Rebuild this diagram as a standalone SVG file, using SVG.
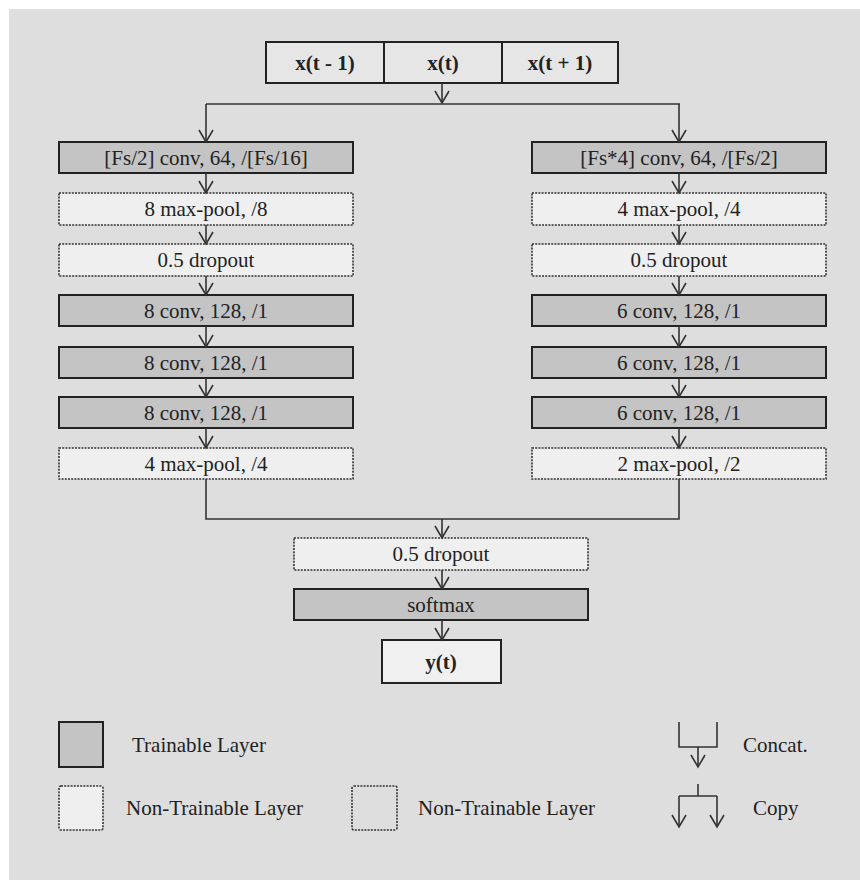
<svg xmlns="http://www.w3.org/2000/svg" width="860" height="880" viewBox="0 0 860 880" font-family="'Liberation Serif', 'DejaVu Serif', serif">
<defs>
<marker id="vd" viewBox="0 0 20 20" refX="10" refY="18" markerWidth="20" markerHeight="20" markerUnits="userSpaceOnUse" orient="0">
<path d="M3,6 L10,18 L17,6" fill="none" stroke="#333" stroke-width="1.6"/>
</marker>
</defs>
<style>
text{font-family:'Liberation Serif','DejaVu Serif',serif;fill:#222;font-size:21px;text-anchor:middle}
.b{font-weight:bold}
.tr{fill:#c4c4c4;stroke:#222;stroke-width:2}
.nt{fill:#efefef;stroke:#333;stroke-width:1.6;stroke-dasharray:2 1.2}
.nt2{fill:#dedede;stroke:#333;stroke-width:1.6;stroke-dasharray:2 1.2}
.io{fill:#e6e6e6;stroke:#222;stroke-width:2}
.ot{fill:#f0f0f0;stroke:#222;stroke-width:2}
.c{fill:none;stroke:#333;stroke-width:1.6}
.a{fill:none;stroke:#333;stroke-width:1.6;marker-end:url(#vd)}
.l{text-anchor:start}
</style>
<rect x="0" y="0" width="860" height="880" fill="#ffffff"/>
<rect x="9" y="9" width="851" height="871" fill="#dedede"/>

<g id="input">
<rect class="io" x="266" y="42" width="352" height="41"/>
<line x1="384" y1="42" x2="384" y2="83" stroke="#222" stroke-width="2"/>
<line x1="502" y1="42" x2="502" y2="83" stroke="#222" stroke-width="2"/>
<text class="b" x="325" y="70">x(t - 1)</text>
<text class="b" x="443" y="70">x(t)</text>
<text class="b" x="560" y="70">x(t + 1)</text>
</g>

<g id="L1"><rect class="tr" x="59" y="142" width="294" height="31"/><text x="206" y="165">[Fs/2] conv, 64, /[Fs/16]</text></g>
<g id="L2"><rect class="nt" x="59" y="193" width="294" height="32"/><text x="206" y="216">8 max-pool, /8</text></g>
<g id="L3"><rect class="nt" x="59" y="244" width="294" height="32"/><text x="206" y="267">0.5 dropout</text></g>
<g id="L4"><rect class="tr" x="59" y="295" width="294" height="31"/><text x="206" y="318">8 conv, 128, /1</text></g>
<g id="L5"><rect class="tr" x="59" y="347" width="294" height="31"/><text x="206" y="370">8 conv, 128, /1</text></g>
<g id="L6"><rect class="tr" x="59" y="397" width="294" height="31"/><text x="206" y="420">8 conv, 128, /1</text></g>
<g id="L7"><rect class="nt" x="59" y="448" width="294" height="31"/><text x="206" y="471">4 max-pool, /4</text></g>

<g id="R1"><rect class="tr" x="532" y="142" width="294" height="31"/><text x="679" y="165">[Fs*4] conv, 64, /[Fs/2]</text></g>
<g id="R2"><rect class="nt" x="532" y="193" width="294" height="32"/><text x="679" y="216">4 max-pool, /4</text></g>
<g id="R3"><rect class="nt" x="532" y="244" width="294" height="32"/><text x="679" y="267">0.5 dropout</text></g>
<g id="R4"><rect class="tr" x="532" y="295" width="294" height="31"/><text x="679" y="318">6 conv, 128, /1</text></g>
<g id="R5"><rect class="tr" x="532" y="347" width="294" height="31"/><text x="679" y="370">6 conv, 128, /1</text></g>
<g id="R6"><rect class="tr" x="532" y="397" width="294" height="31"/><text x="679" y="420">6 conv, 128, /1</text></g>
<g id="R7"><rect class="nt" x="532" y="448" width="294" height="31"/><text x="679" y="471">2 max-pool, /2</text></g>

<g id="D"><rect class="nt" x="294" y="538" width="294" height="32"/><text x="441" y="561">0.5 dropout</text></g>
<g id="S"><rect class="tr" x="294" y="589" width="294" height="31"/><text x="441" y="612">softmax</text></g>
<g id="Y"><rect class="ot" x="382" y="640" width="119" height="43"/><text class="b" x="441" y="669">y(t)</text></g>

<g id="connectors">
<path class="a" d="M442,83 V103"/>
<path class="c" d="M206,104 H680"/>
<path class="a" d="M206,104 V142"/>
<path class="a" d="M679,104 V142"/>
<path class="a" d="M206,173 V193"/>
<path class="a" d="M206,225 V244"/>
<path class="a" d="M206,276 V295"/>
<path class="a" d="M206,326 V347"/>
<path class="a" d="M206,378 V397"/>
<path class="a" d="M206,428 V448"/>
<path class="a" d="M679,173 V193"/>
<path class="a" d="M679,225 V244"/>
<path class="a" d="M679,276 V295"/>
<path class="a" d="M679,326 V347"/>
<path class="a" d="M679,378 V397"/>
<path class="a" d="M679,428 V448"/>
<path class="c" d="M206,479 V519 H679 V479"/>
<path class="a" d="M442,519 V538"/>
<path class="a" d="M442,570 V589"/>
<path class="a" d="M442,620 V640"/>
</g>

<g id="legend">
<rect class="tr" x="59" y="722" width="44" height="45"/>
<text class="l" x="132" y="752">Trainable Layer</text>
<rect class="nt" x="59" y="786" width="44" height="44" rx="2"/>
<text class="l" x="126" y="815">Non-Trainable Layer</text>
<rect class="nt2" x="352" y="786" width="45" height="44" rx="2"/>
<text class="l" x="418" y="815">Non-Trainable Layer</text>
<path class="c" d="M679,722 V747 H717 V722"/>
<path class="a" d="M698,747 V767"/>
<text class="l" x="743" y="752">Concat.</text>
<path class="c" d="M698,784 V796 M679,796 H717"/>
<path class="a" d="M679,796 V827"/>
<path class="a" d="M717,796 V827"/>
<text class="l" x="753" y="815">Copy</text>
</g>
</svg>
